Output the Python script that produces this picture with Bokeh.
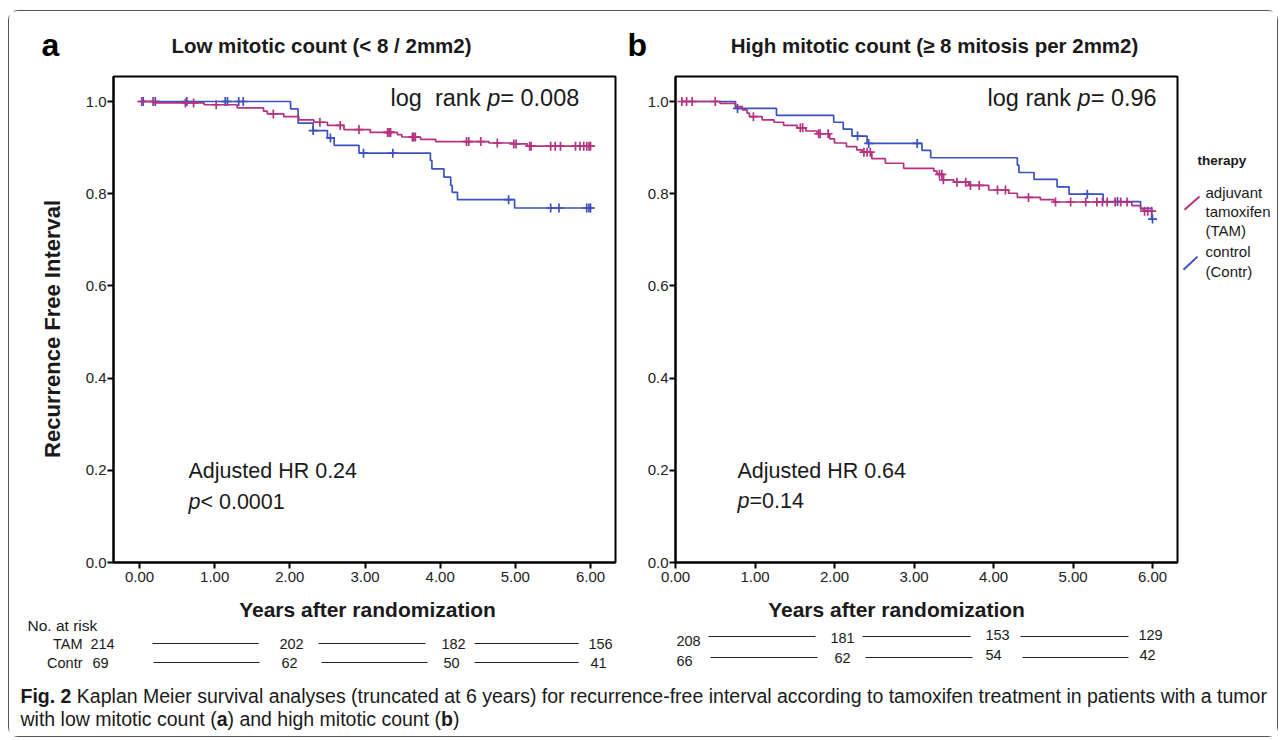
import math
import numpy as np
from bokeh.plotting import figure
from bokeh.models import Range1d, Label, FixedTicker, NumeralTickFormatter, Spacer
from bokeh.layouts import row, column
from bokeh.embed import file_html
from bokeh.resources import INLINE

# ---------------- data ----------------
x_ticks = [0, 1, 2, 3, 4, 5, 6]
y_ticks = [0.0, 0.2, 0.4, 0.6, 0.8, 1.0]

# Panel a : low mitotic count
a_start = 0.03
a_end = 6.0
a_tam_times = [0.19, 0.86, 1.30, 1.65, 1.70, 1.92, 2.12, 2.32, 2.50, 2.72, 3.07, 3.43, 3.49, 3.74, 3.94, 4.65, 4.98, 5.16]
a_tam_surv = [0.997, 0.993, 0.986, 0.979, 0.973, 0.967, 0.960, 0.955, 0.948, 0.939, 0.933, 0.928, 0.923, 0.918, 0.913, 0.910, 0.908, 0.903]
a_tam_cens = [0.03, 0.18, 0.61, 0.72, 1.02, 1.78, 2.40, 2.67, 2.92, 3.30, 3.32, 3.34, 3.63, 3.65, 3.67, 4.35, 4.38,
              4.54, 4.76, 4.98, 5.01, 5.19, 5.21, 5.47, 5.53, 5.60, 5.80, 5.86, 5.91, 5.95, 5.98, 6.0]
a_con_times = [2.01, 2.11, 2.31, 2.50, 2.59, 2.92, 3.87, 3.89, 4.05, 4.14, 4.16, 4.23, 4.99]
a_con_surv = [0.984, 0.953, 0.937, 0.921, 0.905, 0.888, 0.872, 0.854, 0.836, 0.818, 0.803, 0.787, 0.769]
a_con_cens = [0.05, 0.21, 0.63, 1.14, 1.17, 1.32, 1.38, 2.31, 2.54, 2.98, 3.37, 4.91, 5.47, 5.58, 5.95, 5.98, 6.0]

# Panel b : high mitotic count
b_start = 0.08
b_end = 6.0
b_tam_times = [0.56, 0.755, 0.84, 0.90, 0.93, 1.09, 1.24, 1.36, 1.53, 1.64, 1.78, 1.94, 2.00, 2.15, 2.28, 2.35,
               2.47, 2.64, 2.87, 3.25, 3.29, 3.37, 3.50, 3.69, 3.94, 4.19, 4.30, 4.59, 4.76, 5.74, 5.85, 5.90]
b_tam_surv = [0.996, 0.989, 0.982, 0.975, 0.967, 0.960, 0.955, 0.948, 0.943, 0.936, 0.930, 0.919, 0.910, 0.902, 0.895, 0.890,
              0.876, 0.866, 0.855, 0.849, 0.842, 0.830, 0.825, 0.818, 0.808, 0.801, 0.792, 0.787, 0.782, 0.774, 0.767, 0.762]
b_tam_cens = [0.08, 0.14, 0.21, 0.50, 0.98, 1.57, 1.60, 1.80, 1.82, 1.92, 2.37, 2.41, 2.45, 3.32, 3.35, 3.37, 3.54, 3.65,
              3.71, 3.82, 4.05, 4.15, 4.44, 4.78, 4.97, 5.16, 5.30, 5.37, 5.43, 5.53, 5.60, 5.68, 5.90, 5.94, 5.99]
b_con_times = [0.755, 1.27, 1.99, 2.11, 2.22, 2.41, 3.10, 3.21, 4.30, 4.32, 4.51, 4.80, 4.95, 5.38, 5.85, 5.99]
b_con_surv = [0.985, 0.970, 0.955, 0.940, 0.925, 0.909, 0.894, 0.878, 0.862, 0.846, 0.831, 0.815, 0.799, 0.783, 0.768, 0.745]
b_con_cens = [0.78, 2.29, 2.43, 3.04, 5.18, 5.56, 6.0]

# numbers at risk
risk_groups = ["TAM", "Contr"]
a_risk_tam = [214, 202, 182, 156]
a_risk_con = [69, 62, 50, 41]
b_risk_tam = [208, 181, 153, 129]
b_risk_con = [66, 62, 54, 42]

panel_letters = ["a", "b"]
titles = ["Low mitotic count (< 8 / 2mm2)", "High mitotic count (\u2265 8 mitosis per 2mm2)"]
logrank = ["0.008", "0.96"]
adj_hr = ["0.24", "0.64"]
adj_p = ["< 0.0001", "=0.14"]
legend_title = "therapy"
legend_labels = [["adjuvant", "tamoxifen", "(TAM)"], ["control", "(Contr)"]]

# ---------------- style ----------------
PINK = "#B5327E"
BLUE = "#3D50C0"
INK = "#1a1a1a"
FONT = "Liberation Sans"
NBSP = "\u00a0"

REG = {' ': 278, NBSP: 278, '(': 333, ')': 333, ',': 278, '-': 333, '.': 278, '/': 278, ':': 278, '<': 584,
       '=': 584, '\u2265': 549,
       'A': 667, 'B': 667, 'C': 722, 'D': 722, 'E': 667, 'F': 611, 'G': 778, 'H': 722, 'I': 278, 'K': 667, 'L': 556,
       'M': 833, 'N': 722, 'O': 778, 'P': 667, 'R': 722, 'S': 667, 'T': 611, 'Y': 667,
       'a': 556, 'b': 556, 'c': 500, 'd': 556, 'e': 556, 'f': 278, 'g': 556, 'h': 556, 'i': 222, 'j': 222, 'k': 500,
       'l': 222, 'm': 833, 'n': 556, 'o': 556, 'p': 556, 'q': 556, 'r': 333, 's': 500, 't': 278, 'u': 556, 'v': 500,
       'w': 722, 'x': 500, 'y': 500, 'z': 500}
BOLD = dict(REG)
BOLD.update({'A': 722, 'B': 722, 'L': 611, 'b': 611, 'c': 556, 'd': 611, 'f': 333, 'g': 611, 'h': 611, 'i': 278,
             'j': 278, 'k': 556, 'l': 278, 'm': 889, 'n': 611, 'o': 611, 'p': 611, 'q': 611, 'r': 389, 's': 556,
             't': 333, 'u': 611, 'v': 556, 'w': 778, 'x': 556, 'y': 556})


def tw(s, size, bold=False):
    tab = BOLD if bold else REG
    return sum(tab.get(c, 556) for c in s) * size / 1000.0


# ---------------- page geometry (page pixels) ----------------
BOX_X, BOX_Y = 8, 10          # outer rounded box (1px border)
IN_X, IN_Y = 9, 11            # inside of the box
IN_W = 1268
HEAD_H = 63                   # 11 .. 74
MID_Y, MID_H = 74, 518        # 74 .. 592
BOT_Y, BOT_H = 592, 87        # 592 .. 679
CAP_Y, CAP_H = 679, 57        # 679 .. 736
FRAME_TOP, FRAME_BOT = 76, 562
PPU_Y = 461.0


def Yd(py):
    return (FRAME_BOT - py) / PPU_Y


def text_fig(x0, y0, w, h):
    """A figure whose whole canvas is its frame, with data units equal to page pixels."""
    p = figure(width=w, height=h, x_range=Range1d(x0, x0 + w), y_range=Range1d(y0 + h, y0),
               min_border=0, x_axis_location=None, y_axis_location=None,
               toolbar_location=None, output_backend="svg",
               background_fill_color="white", border_fill_color="white")
    p.xgrid.visible = False
    p.ygrid.visible = False
    p.outline_line_color = None
    return p


def lab(p, x, y, text, size, style="normal", align="left", color=INK, angle=0.0):
    p.add_layout(Label(x=x, y=y, text=text, text_font=FONT, text_font_size=f"{size}px",
                       text_font_style=style, text_align=align, text_baseline="middle",
                       text_color=color, angle=angle))


def chain(p, x, y, parts, size, color=INK):
    for text, style in parts:
        lab(p, x, y, text, size, style=style, color=color)
        x += tw(text, size, bold=(style == "bold"))


def km_xy(start, end, times, surv):
    xs = [start] + list(times) + [end]
    ys = [1.0] + list(surv) + [surv[-1]]
    return xs, ys


def surv_at(t, times, surv):
    idx = np.searchsorted(np.array(times), np.array(t), side="right") - 1
    s = np.array([1.0] + list(surv))
    return s[idx + 1]


def make_panel(fig_x, fig_w, frame_l, frame_r, zero_px, ppu):
    x0 = (frame_l - zero_px) / ppu
    x1 = (frame_r - zero_px) / ppu
    p = figure(width=fig_w, height=MID_H,
               x_range=Range1d(x0, x1), y_range=Range1d(Yd(FRAME_BOT), Yd(FRAME_TOP)),
               min_border_left=frame_l - fig_x, min_border_right=fig_x + fig_w - frame_r,
               min_border_top=FRAME_TOP - MID_Y, min_border_bottom=MID_Y + MID_H - FRAME_BOT,
               toolbar_location=None, output_backend="svg", background_fill_color="white",
               border_fill_color="white")
    p.xgrid.visible = False
    p.ygrid.visible = False
    p.outline_line_color = "black"
    p.outline_line_width = 2
    p.outline_line_alpha = 1
    for ax in (p.xaxis[0], p.yaxis[0]):
        ax.axis_line_width = 2
        ax.axis_line_color = "black"
        ax.major_tick_line_width = 2
        ax.major_tick_line_color = "black"
        ax.major_tick_out = 6
        ax.major_tick_in = 0
        ax.minor_tick_line_color = None
        ax.major_label_text_font = FONT
        ax.major_label_text_font_size = "15px"
        ax.major_label_text_color = "#222222"
    p.xaxis.ticker = FixedTicker(ticks=x_ticks)
    p.xaxis.formatter = NumeralTickFormatter(format="0.00")
    p.xaxis.major_label_standoff = 3
    p.yaxis.ticker = FixedTicker(ticks=y_ticks)
    p.yaxis.formatter = NumeralTickFormatter(format="0.0")
    p.yaxis.major_label_standoff = 1
    return p


def draw_curves(p, start, end, tam_t, tam_s, tam_c, con_t, con_s, con_c):
    xs, ys = km_xy(start, end, con_t, con_s)
    p.step(xs, ys, mode="after", line_color=BLUE, line_width=1.7)
    p.scatter(con_c, surv_at(con_c, con_t, con_s), marker="cross", size=9, line_color=BLUE, line_width=1.7)
    xs, ys = km_xy(start, end, tam_t, tam_s)
    p.step(xs, ys, mode="after", line_color=PINK, line_width=1.7)
    p.scatter(tam_c, surv_at(tam_c, tam_t, tam_s), marker="cross", size=9, line_color=PINK, line_width=1.7)


def in_frame_label(p, zero_px, ppu, px, py, parts, size):
    x = px
    for text, style in parts:
        p.add_layout(Label(x=(x - zero_px) / ppu, y=Yd(py), text=text, text_font=FONT,
                           text_font_size=f"{size}px", text_font_style=style, text_align="left",
                           text_baseline="middle", text_color=INK))
        x += tw(text, size)


# ---------------- header ----------------
head = text_fig(IN_X, IN_Y, IN_W, HEAD_H)
lab(head, 41, 44, panel_letters[0], 32, style="bold", color="black")
lab(head, 321, 45, titles[0], 20.5, style="bold", align="center")
lab(head, 627, 44, panel_letters[1], 32, style="bold", color="black")
lab(head, 934, 45, titles[1], 20.5, style="bold", align="center")

# ---------------- middle row ----------------
ylab = text_fig(IN_X, MID_Y, 61, MID_H)
lab(ylab, 52, 343, "Recurrence Free Interval", 22, style="bold", align="center", angle=math.pi / 2)

A_ZERO, A_PPU = 139, 75.17
pa = make_panel(70, 571, 113, 615, A_ZERO, A_PPU)
draw_curves(pa, a_start, a_end, a_tam_times, a_tam_surv, a_tam_cens, a_con_times, a_con_surv, a_con_cens)
in_frame_label(pa, A_ZERO, A_PPU, 390, 97,
               [("log" + NBSP + NBSP + "rank ", "normal"), ("p", "italic"), ("= " + logrank[0], "normal")], 23.5)
in_frame_label(pa, A_ZERO, A_PPU, 188, 470, [("Adjusted HR " + adj_hr[0], "normal")], 21.5)
in_frame_label(pa, A_ZERO, A_PPU, 188, 501, [("p", "italic"), (adj_p[0], "normal")], 21.5)

B_ZERO, B_PPU = 675, 79.5
pb = make_panel(641, 539, 675, 1177, B_ZERO, B_PPU)
draw_curves(pb, b_start, b_end, b_tam_times, b_tam_surv, b_tam_cens, b_con_times, b_con_surv, b_con_cens)
in_frame_label(pb, B_ZERO, B_PPU, 987, 97,
               [("log rank ", "normal"), ("p", "italic"), ("= " + logrank[1], "normal")], 23.5)
in_frame_label(pb, B_ZERO, B_PPU, 737, 470, [("Adjusted HR " + adj_hr[1], "normal")], 21.5)
in_frame_label(pb, B_ZERO, B_PPU, 737, 500, [("p", "italic"), (adj_p[1], "normal")], 21.5)

leg = text_fig(1180, MID_Y, 97, MID_H)
lab(leg, 1197, 163, legend_title, 13.5, style="bold")
leg.segment(x0=[1184, 1183], y0=[216, 280], x1=[1199, 1197], y1=[202, 266], line_color=[PINK, BLUE], line_width=2)
for i, t in enumerate(legend_labels[0]):
    lab(leg, 1205, 198 + 20 * i, t, 15)
for i, t in enumerate(legend_labels[1]):
    lab(leg, 1205, 261 + 21 * i, t, 15)

# ---------------- below the panels: axis titles and numbers at risk ----------------
bot = text_fig(IN_X, BOT_Y, IN_W, BOT_H)
lab(bot, 367, 609, "Years after randomization", 21, style="bold", align="center")
lab(bot, 896, 609, "Years after randomization", 21, style="bold", align="center")
lab(bot, 27, 625, "No. at risk", 15.5)
lab(bot, 82, 643, risk_groups[0], 14.5, align="right")
lab(bot, 82, 662, risk_groups[1], 14.5, align="right")

a_num_px = [102, 291, 453, 600]
for i in range(4):
    lab(bot, a_num_px[i], 643, str(a_risk_tam[i]), 14.5, align="center")
    lab(bot, a_num_px[i] - 2, 662, str(a_risk_con[i]), 14.5, align="center")
b_tam_px = [688, 842, 997, 1150]
b_tam_py = [640, 637, 634, 634]
b_con_px = [684, 842, 993, 1147]
b_con_py = [660, 657, 654, 654]
for i in range(4):
    lab(bot, b_tam_px[i], b_tam_py[i], str(b_risk_tam[i]), 14.5, align="center")
    lab(bot, b_con_px[i], b_con_py[i], str(b_risk_con[i]), 14.5, align="center")

seg_x0 = [152, 318, 474, 153, 321, 474, 708, 862, 1020, 710, 865, 1022]
seg_x1 = [258, 425, 578, 259, 427, 578, 815, 970, 1128, 817, 972, 1128]
seg_y = [643, 643, 643, 662, 662, 662, 636, 636, 636, 657, 657, 657]
bot.segment(x0=seg_x0, y0=seg_y, x1=seg_x1, y1=seg_y, line_color="#222222", line_width=1)

# ---------------- caption ----------------
cap = text_fig(IN_X, CAP_Y, IN_W, CAP_H)
CAP = 19.5
chain(cap, 20, 695, [("Fig. 2 ", "bold"),
                     ("Kaplan Meier survival analyses (truncated at 6 years) for recurrence-free interval according to "
                      "tamoxifen treatment in patients with a tumor", "normal")], CAP)
chain(cap, 20, 718, [("with low mitotic count (", "normal"), ("a", "bold"), (") and high mitotic count (", "normal"),
                     ("b", "bold"), (")", "normal")], CAP)

box = column(head, row(ylab, pa, pb, leg), bot, cap,
             styles={"border": "1px solid #555555", "border-radius": "10px", "background": "white"})
page = row(Spacer(width=BOX_X), column(Spacer(height=BOX_Y), box))

open("out.html", "w").write(file_html(page, INLINE))
